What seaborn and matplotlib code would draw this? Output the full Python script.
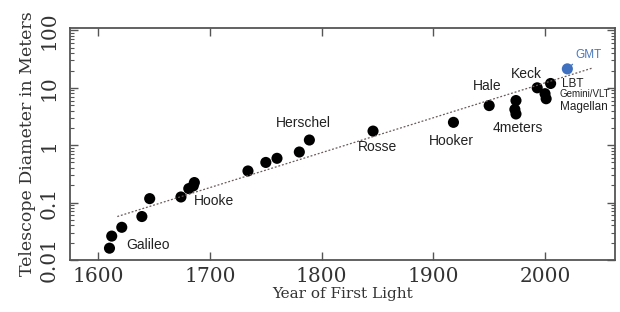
import numpy as np
import pandas as pd
import seaborn as sns
import matplotlib.pyplot as plt

# telescopes: year of first light vs aperture (m)
years = [1610, 1612, 1621, 1639, 1646, 1674, 1681, 1685, 1686, 1734, 1750, 1760,
         1780, 1789, 1846, 1918, 1950, 1974, 1973, 1974, 1993, 2005, 2000, 2001]
diam = [0.016, 0.026, 0.037, 0.057, 0.117, 0.125, 0.175, 0.195, 0.223, 0.355, 0.50, 0.59,
        0.76, 1.23, 1.76, 2.5, 4.9, 6.0, 4.2, 3.5, 10.0, 11.9, 7.9, 6.45]

gmt_year = [2020]
gmt_diam = [21.4]

trend_years = [1617, 2043]
trend_diam = [0.057, 22.3]

label_names = ["Galileo", "Hooke", "Herschel", "Rosse", "Hooker", "Hale",
               "4meters", "Keck", "LBT", "Gemini/VLT", "Magellan"]

df = pd.DataFrame({"year": years, "diam": diam})
trend = pd.DataFrame({"year": trend_years, "diam": trend_diam})
gmt = pd.DataFrame({"year": gmt_year, "diam": gmt_diam})

sns.set_style("ticks")
fig = plt.figure(figsize=(6.2, 3.12), dpi=100)
ax = fig.add_axes([0.113, 0.167, 0.879, 0.743])

sns.lineplot(data=trend, x="year", y="diam", ax=ax, color="#6a5a5a",
             linestyle=(0, (1.5, 1.5)), linewidth=0.9)
sns.scatterplot(data=df, x="year", y="diam", ax=ax, color="black",
                s=64, edgecolor="none")
sns.scatterplot(data=gmt, x="year", y="diam", ax=ax, color="#3f6fbf",
                s=64, edgecolor="none")

ax.set_yscale("log")
ax.set_xlim(1574.7, 2062.7)
ax.set_ylim(0.0102, 110)
ax.set_xticks([1600, 1700, 1800, 1900, 2000])
ax.set_yticks([0.01, 0.1, 1, 10, 100])
ax.set_yticklabels(["0.01", "0.1", "1", "10", "100"])
ax.minorticks_on()
ax.xaxis.set_minor_locator(plt.NullLocator())

serif = ["DejaVu Serif"]
for lab in ax.get_xticklabels():
    lab.set_family(serif)
    lab.set_fontsize(14.5)
    lab.set_color("#333333")
for lab in ax.get_yticklabels():
    lab.set_family(serif)
    lab.set_fontsize(14.5)
    lab.set_rotation(90)
    lab.set_va("center")
    lab.set_color("#333333")

ax.tick_params(which="both", direction="in", top=True, right=True, color="#555555")
ax.tick_params(which="major", length=6, width=1, pad=5)
ax.tick_params(which="minor", length=3, width=0.8)
ax.tick_params(axis="y", pad=8)
for sp in ax.spines.values():
    sp.set_color("#555555")
    sp.set_linewidth(1.3)

ax.set_xlabel("Year of First Light", family=serif, fontsize=11, color="#333333", labelpad=1)
ax.set_ylabel("Telescope Diameter in Meters", family=serif, fontsize=12.5, color="#333333", labelpad=3)

# labels: name -> (x, y, fontsize)
pos = {
    "Galileo": (1625, 0.018, 10),
    "Hooke": (1686, 0.105, 10),
    "Herschel": (1759, 2.46, 10),
    "Rosse": (1832, 0.92, 10),
    "Hooker": (1896, 1.2, 10),
    "Hale": (1935, 10.7, 10),
    "4meters": (1953, 1.96, 10),
    "Keck": (1969.5, 17.7, 10),
    "LBT": (2015.5, 11.7, 8.5),
    "Gemini/VLT": (2013, 7.7, 7),
    "Magellan": (2013.5, 4.6, 8.5),
}
sans = ["Liberation Sans", "DejaVu Sans"]
for name in label_names:
    x, y, fs = pos[name]
    ax.text(x, y, name, ha="left", va="center", fontsize=fs, family=sans, color="#222222")

ax.annotate("GMT", xy=(2020, 21.4), xytext=(2027.6, 36.7), ha="left", va="center",
            fontsize=8.5, family=sans, color="#4a78c0",
            arrowprops=dict(arrowstyle="-", color="#4a78c0", lw=0.9,
                            relpos=(0, 0), shrinkA=0, shrinkB=3))

fig.savefig("out.png", dpi=100, facecolor="white")
